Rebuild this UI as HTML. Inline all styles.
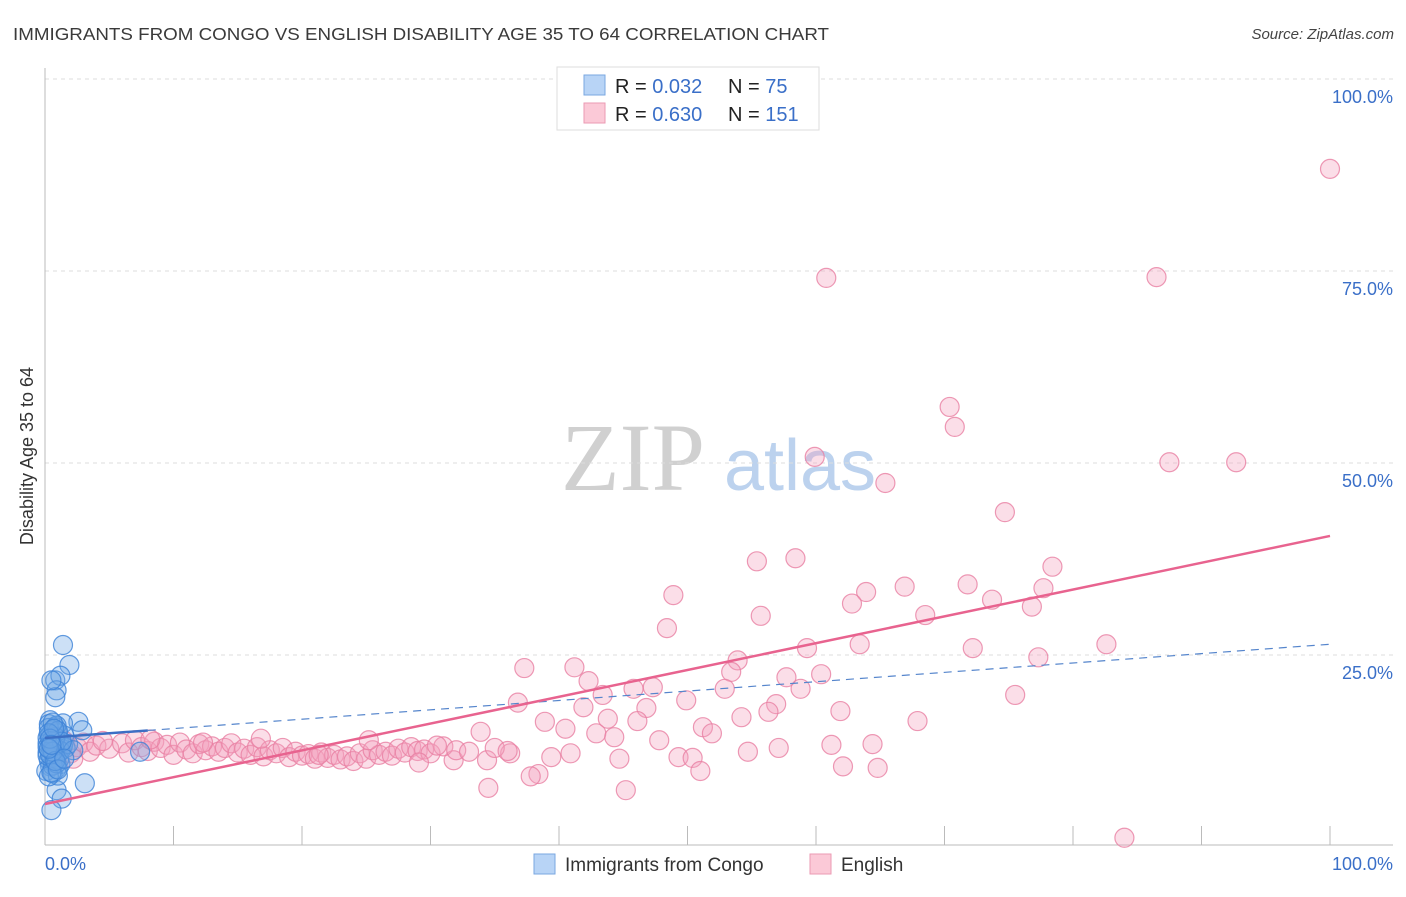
<!DOCTYPE html>
<html><head><meta charset="utf-8"><style>
body{margin:0;background:#fff;font-family:"Liberation Sans",sans-serif}
</style></head><body>
<svg id="chart" width="1406" height="892" xmlns="http://www.w3.org/2000/svg" font-family="Liberation Sans, sans-serif">
<text x="13" y="40" font-size="17.5" fill="#3a3a3a" textLength="816" lengthAdjust="spacingAndGlyphs">IMMIGRANTS FROM CONGO VS ENGLISH DISABILITY AGE 35 TO 64 CORRELATION CHART</text>
<text x="1394" y="39" font-size="15" fill="#444" text-anchor="end" font-style="italic">Source: ZipAtlas.com</text>
<g>
<text x="633" y="490" font-size="96" fill="#d0d0d0" font-family="Liberation Serif, serif" text-anchor="middle">ZIP</text>
<text x="800" y="490" font-size="72" fill="#bcd2ee" text-anchor="middle">atlas</text>
</g>
<g id="grid"></g><g id="axes"></g><g id="pts"></g><g id="lines"></g>
<text transform="translate(33,456) rotate(-90)" font-size="18" fill="#333" text-anchor="middle">Disability Age 35 to 64</text>
<g>
<rect x="557" y="67" width="262" height="63" fill="#fff" stroke="#ddd"/>
<rect x="584" y="75" width="21" height="20" fill="#b8d4f6" stroke="#7aa7e0"/>
<rect x="584" y="103" width="21" height="20" fill="#fbc9d7" stroke="#eb9ab3"/>
<text x="615" y="93" font-size="20" fill="#222">R = <tspan fill="#3a6fc8">0.032</tspan></text>
<text x="728" y="93" font-size="20" fill="#222">N = <tspan fill="#3a6fc8"> 75</tspan></text>
<text x="615" y="121" font-size="20" fill="#222">R = <tspan fill="#3a6fc8">0.630</tspan></text>
<text x="728" y="121" font-size="20" fill="#222">N = <tspan fill="#3a6fc8">151</tspan></text>
</g>
<g>
<rect x="534" y="854" width="21" height="20" fill="#b8d4f6" stroke="#7aa7e0"/>
<text x="565" y="871" font-size="19" fill="#333">Immigrants from Congo</text>
<rect x="810" y="854" width="21" height="20" fill="#fbc9d7" stroke="#eb9ab3"/>
<text x="841" y="871" font-size="19" fill="#333">English</text>
</g>
</svg>
<script>
const yTicks=[25,50,75,100];
const yTickLabels=["25.0%","50.0%","75.0%","100.0%"];
const xTicks=[0,10,20,30,40,50,60,70,80,90,100];
const blueX=[1.4,1.9,0.8,1.2,0.9,0.8,0.5,2.6,1.4,0.4,0.8,3.1,0.9,1.3,0.5,7.4,2.9,0.3,0.6,1.0,1.5,0.2,0.7,1.1,0.4,0.9,1.3,0.6,0.2,1.0,0.5,0.8,1.6,0.3,0.7,1.2,0.4,0.9,0.1,0.6,1.0,0.3,0.8,1.4,0.5,0.2,0.7,1.1,0.4,0.9,0.6,0.3,1.2,0.5,0.8,0.2,1.0,0.6,0.4,0.7,1.8,2.2,0.3,0.9,0.5,1.3,0.6,0.2,0.8,0.4,1.0,0.7,0.3,1.5,0.5];
const blueY=[26.3,23.7,21.7,22.3,20.4,19.5,21.7,16.3,16.1,16.5,15.6,8.3,7.4,6.3,4.8,12.4,15.2,16.0,15.2,14.8,14.5,14.2,13.9,13.6,13.3,13.0,12.8,12.6,12.3,12.1,11.8,11.6,12.9,11.3,11.0,10.8,10.5,10.2,9.9,9.6,9.3,15.5,14.0,13.2,12.7,13.5,12.2,11.4,14.6,15.8,10.6,9.2,12.5,13.8,14.3,11.9,15.1,16.2,12.0,13.1,13.4,12.6,14.8,10.9,9.7,13.7,12.4,13.0,11.2,14.1,10.1,15.4,12.8,11.5,13.3];
const pinkX=[100,60.8,86.5,70.4,70.8,59.9,87.5,92.7,65.4,74.7,55.4,58.4,78.4,66.9,71.8,77.7,48.9,63.9,62.8,73.7,76.8,48.4,55.7,68.5,59.3,63.4,72.2,82.6,77.3,37.3,41.2,53.9,42.3,53.4,57.7,60.4,45.8,47.3,52.9,58.8,43.4,36.8,49.9,75.5,41.9,56.9,46.8,61.9,38.9,43.8,46.1,54.2,56.3,67.9,40.5,42.9,44.3,51.2,51.9,33.9,47.8,61.2,64.4,57.1,54.7,40.9,39.4,44.7,49.3,50.4,36.2,62.1,64.8,51.0,38.4,37.8,31.8,34.4,34.5,45.2,84.0,
0.5,1,1.5,2,2.5,3,3.5,4,5,6,6.5,7,7.5,8,8.5,9,9.5,10,10.5,11,11.5,12,12.5,13,13.5,14,14.5,15,15.5,16,16.5,17,17.5,18,18.5,19,19.5,20,20.5,21,21.5,22,22.5,23,23.5,24,24.5,25,25.5,26,26.5,27,27.5,28,28.5,29,29.5,30,31,32,33,35,36,2.2,4.5,8.2,12.3,16.8,21.3,25.2,29.1,30.5];
const pinkY=[88.3,74.1,74.2,57.3,54.7,50.8,50.1,50.1,47.4,43.6,37.2,37.6,36.5,33.9,34.2,33.7,32.8,33.2,31.7,32.2,31.3,28.5,30.1,30.2,25.9,26.4,25.9,26.4,24.7,23.3,23.4,24.3,21.6,22.8,22.1,22.5,20.6,20.8,20.6,20.6,19.8,18.8,19.1,19.8,18.2,18.6,18.1,17.7,16.3,16.7,16.4,16.9,17.6,16.4,15.4,14.8,14.3,15.6,14.8,15.0,13.9,13.3,13.4,12.9,12.4,12.2,11.7,11.5,11.7,11.6,12.2,10.5,10.3,9.9,9.5,9.2,11.3,11.3,7.7,7.4,1.2,
13.5,12.5,13.8,12.2,13.0,13.6,12.4,13.2,12.8,13.5,12.3,13.9,13.0,12.5,13.7,12.9,13.3,12.0,13.6,12.7,12.2,13.4,12.6,13.1,12.4,12.9,13.5,12.3,12.8,12.0,13.0,11.8,12.6,12.2,12.9,11.7,12.4,11.9,12.1,11.5,12.3,11.6,12.0,11.4,11.8,11.2,12.2,11.5,12.6,12.0,12.4,11.9,12.8,12.3,13.0,12.5,12.7,12.2,13.1,12.6,12.4,12.9,12.5,11.5,13.8,14.0,13.6,14.1,12.0,13.9,11.0,13.2];
const blueFit=[14.2,26.4];
const pinkFit=[5.6,40.5];
const NS="http://www.w3.org/2000/svg";
const X=v=>45+v*12.85, Y=v=>847-v*7.68;
function mk(parent,tag,attrs){const e=document.createElementNS(NS,tag);for(const k in attrs)e.setAttribute(k,attrs[k]);document.getElementById(parent).appendChild(e);return e;}
yTicks.forEach((t,i)=>{
 const g=mk('grid','line',{x1:45,x2:1393,y1:Y(t),y2:Y(t),stroke:'#ddd','stroke-dasharray':'4,4'});
 
 
 const l=mk('grid','text',{x:1393,y:Y(t)+24,'text-anchor':'end','font-size':18,fill:'#3a6fc8'});
 l.textContent=yTickLabels[i];
 
 
});
const ya=mk('axes','line',{x1:45,x2:45,y1:68,y2:845,stroke:'#bbb'});


const xa=mk('axes','line',{x1:45,x2:1393,y1:845,y2:845,stroke:'#bbb'});


xTicks.forEach(t=>{const k=mk('axes','line',{x1:X(t),x2:X(t),y1:826,y2:845,stroke:'#bbb'});
 
 });
const x0=mk('axes','text',{x:45,y:870,'font-size':18,fill:'#3a6fc8'});x0.textContent='0.0%';


const x1=mk('axes','text',{x:1393,y:870,'font-size':18,fill:'#3a6fc8','text-anchor':'end'});x1.textContent='100.0%';


pinkX.forEach((v,i)=>{const c=mk('pts','circle',{cx:X(v),cy:Y(pinkY[i]),r:9.5,fill:'rgba(244,160,188,0.35)',stroke:'rgba(232,128,162,0.8)','stroke-width':1.2});
 
 });
blueX.forEach((v,i)=>{const c=mk('pts','circle',{cx:X(v),cy:Y(blueY[i]),r:9.5,fill:'rgba(110,165,230,0.35)',stroke:'rgba(60,130,215,0.8)','stroke-width':1.2});
 
 });
const bl=mk('lines','line',{x1:X(0),y1:Y(blueFit[0]),x2:X(8),y2:Y(blueFit[0]+(blueFit[1]-blueFit[0])*0.08),stroke:'#3c6fc4','stroke-width':2.5});


const bd=mk('lines','line',{x1:X(8),y1:Y(blueFit[0]+(blueFit[1]-blueFit[0])*0.08),x2:X(100),y2:Y(blueFit[1]),stroke:'#5585cc','stroke-width':1.2,'stroke-dasharray':'8,6'});


const pl=mk('lines','line',{x1:X(0),y1:Y(pinkFit[0]),x2:X(100),y2:Y(pinkFit[1]),stroke:'#e8638f','stroke-width':2.5});


</script>
</body></html>
